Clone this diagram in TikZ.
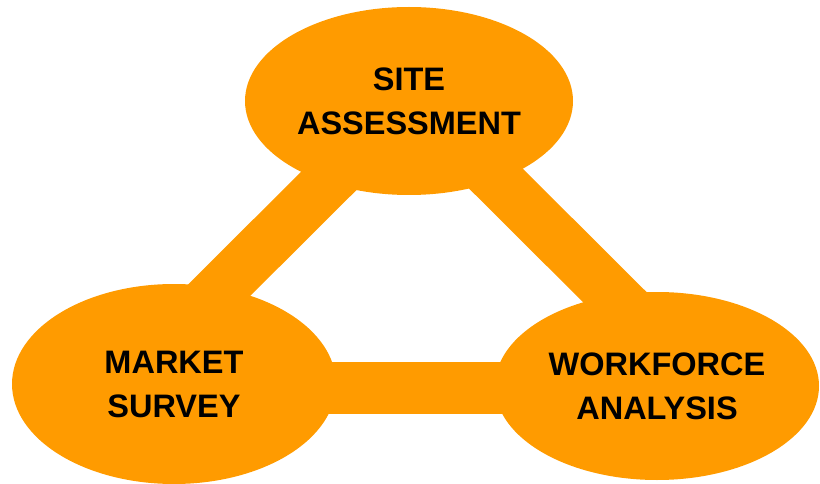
\documentclass[tikz,border=0pt]{standalone}
\usepackage{fontspec}
\setmainfont{Liberation Sans}
\usetikzlibrary{shapes.geometric,backgrounds}
\definecolor{hub}{HTML}{FF9B00}
\tikzset{
  bubble/.style={ellipse, fill=hub, inner sep=0pt, align=center,
    font=\bfseries\fontsize{32.5}{44}\selectfont},
  bar/.style={draw=hub, line width=52pt, line cap=butt}
}
\begin{document}
\begin{tikzpicture}[x=1pt,y=-1pt]
  \useasboundingbox (0,0) rectangle (820,484);
  % three bubbles
  \node[bubble, minimum width=328pt, minimum height=188pt] (site) at (409,101) {SITE\\ASSESSMENT};
  \node[bubble, minimum width=324pt, minimum height=200pt] (market) at (174,384) {MARKET\\SURVEY};
  \node[bubble, minimum width=324pt, minimum height=188pt] (work) at (657,386) {WORKFORCE\\ANALYSIS};
  % connecting bars, behind the bubbles
  \begin{pgfonlayer}{background}
    \draw[bar] (site.center) -- ([xshift=-49pt]market.center);
    \draw[bar] ([xshift=9pt]site.center) -- ([xshift=47pt]work.center);
    \draw[bar] ([yshift=-4pt]market.center) -- ([yshift=-2pt]work.center);
  \end{pgfonlayer}
\end{tikzpicture}
\end{document}
